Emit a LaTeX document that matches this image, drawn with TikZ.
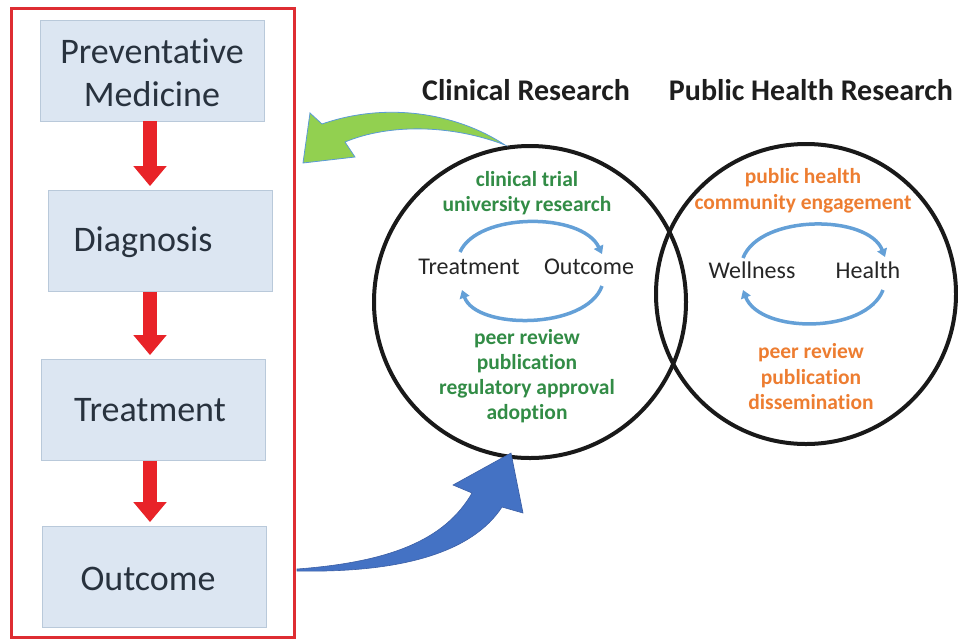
\documentclass[tikz,border=0pt]{standalone}
\usepackage{fontspec}
\setmainfont{Carlito}[Ligatures=NoCommon]
\usetikzlibrary{arrows.meta}
\definecolor{boxfill}{RGB}{220,230,242}
\definecolor{boxline}{RGB}{185,201,218}
\definecolor{boxtext}{RGB}{40,50,62}
\definecolor{framered}{RGB}{222,45,50}
\definecolor{arrred}{RGB}{232,35,40}
\definecolor{cgreen}{RGB}{50,140,70}
\definecolor{corange}{RGB}{237,125,49}
\definecolor{cyccol}{RGB}{100,160,215}
\definecolor{garrow}{RGB}{146,208,80}
\definecolor{garrowline}{RGB}{91,155,213}
\definecolor{barrow}{RGB}{68,114,196}
\definecolor{barrowline}{RGB}{60,95,165}
\definecolor{titlecol}{RGB}{30,30,30}
\begin{document}
\begin{tikzpicture}[x=1pt,y=-1pt,
  stepbox/.style={draw=boxline, fill=boxfill, line width=0.8pt, inner sep=0pt,
    minimum width=224pt, minimum height=101pt},
  boxlabel/.style={text=boxtext, font=\fontsize{36}{43}\selectfont, align=center, inner sep=0pt},
  downarrow/.style={draw=arrred, line width=14pt, -{Triangle[width=32pt,length=20pt]}},
  title/.style={text=titlecol, font=\fontsize{30}{34}\selectfont\bfseries, inner sep=0pt},
  gtext/.style={text=cgreen, font=\fontsize{21.5}{25}\selectfont\bfseries, align=center, inner sep=0pt},
  otext/.style={text=corange, font=\fontsize{21.5}{25.5}\selectfont\bfseries, align=center, inner sep=0pt},
  itext/.style={text=black!85, font=\fontsize{24}{28}\selectfont, inner sep=0pt},
  venn/.style={draw=black!90, line width=4pt, circle, inner sep=0pt},
  cyc/.style={draw=cyccol, line width=3.5pt, -{Triangle[length=8pt,width=10pt]}}
]
\useasboundingbox (0,0) rectangle (958,641);

% red frame
\node (frame) [draw=framered, line width=3pt, minimum width=283pt, minimum height=629pt, inner sep=0pt] at (152.5,322.5) {};

% boxes
\node (b1) [stepbox] at (152.5,70.5) {};
\node (b2) [stepbox] at (160,241) {};
\node (b3) [stepbox] at (153.5,410) {};
\node (b4) [stepbox] at (154,577) {};
\node (t1) [boxlabel] at (152,73) {Preventative\\Medicine};
\node (t2) [boxlabel] at (143,242) {Diagnosis};
\node (t3) [boxlabel] at (150,410) {Treatment};
\node (t4) [boxlabel] at (148,579) {Outcome};

\draw[downarrow, shorten >=4pt] (b1.south -| 150,0) -- (b2.north -| 150,0);
\draw[downarrow, shorten >=4pt] (b2.south -| 150,0) -- (b3.north -| 150,0);
\draw[downarrow, shorten >=4pt] (b3.south -| 150,0) -- (b4.north -| 150,0);

% titles
\node (ct) [title] at (526,90) {Clinical Research};
\node (pt) [title] at (811,90) {Public Health Research};

% circles
\node (cl) [venn, minimum size=312pt] at (530,302) {};
\node (cr) [venn, minimum size=300pt] at (806,294) {};

% green texts
\node (g1) [gtext] at (527,193) {clinical trial\\university research};
\node (g2) [gtext] at (527,376) {peer review\\publication\\regulatory approval\\adoption};
% orange texts
\node (o1) [otext] at (803,191) {public health\\community engagement};
\node (o2) [otext] at (811,377) {peer review\\publication\\dissemination};

% inner cycle texts
\node (tr) [itext] at (469,267) {Treatment};
\node (oc) [itext] at (589,267) {Outcome};
\node (we) [itext] at (752,270) {Wellness};
\node (he) [itext] at (868,270) {Health};

\coordinate (la) at (460,252);
\coordinate (lb) at (602,254);
\coordinate (lc) at (602,286);
\coordinate (ld) at (462,290);
\draw[cyc] (la) .. controls (478,212) and (582,212) .. (lb);
\draw[cyc] (lc) .. controls (586,330) and (476,330) .. (ld);
\coordinate (ra) at (743,258);
\coordinate (rb) at (885,257);
\coordinate (rc) at (883,290);
\coordinate (rd) at (743,290);
\draw[cyc] (ra) .. controls (760,214) and (868,214) .. (rb);
\draw[cyc] (rc) .. controls (866,334) and (760,334) .. (rd);

% green curved block arrow
\coordinate (gtail) at (505,145);
\coordinate (gtip) at (303,163);
\draw[fill=garrow, draw=garrowline, line width=0.8pt]
  (gtip) -- (310,113) -- (322,124) .. controls (385,102) and (455,112) .. (gtail)
  .. controls (450,124) and (388,124) .. (345,142) -- (355,157) -- cycle;

% blue curved block arrow
\coordinate (btail) at (297,569);
\coordinate (btip) at (511,453);
\draw[fill=barrow, draw=barrowline, line width=0.6pt]
  (btail) .. controls (390,562) and (445,540) .. (472,493) -- (453,485) -- (btip)
  -- (523,513) -- (502,507) .. controls (472,553) and (400,573) .. (297,571) -- cycle;
\end{tikzpicture}
\end{document}
